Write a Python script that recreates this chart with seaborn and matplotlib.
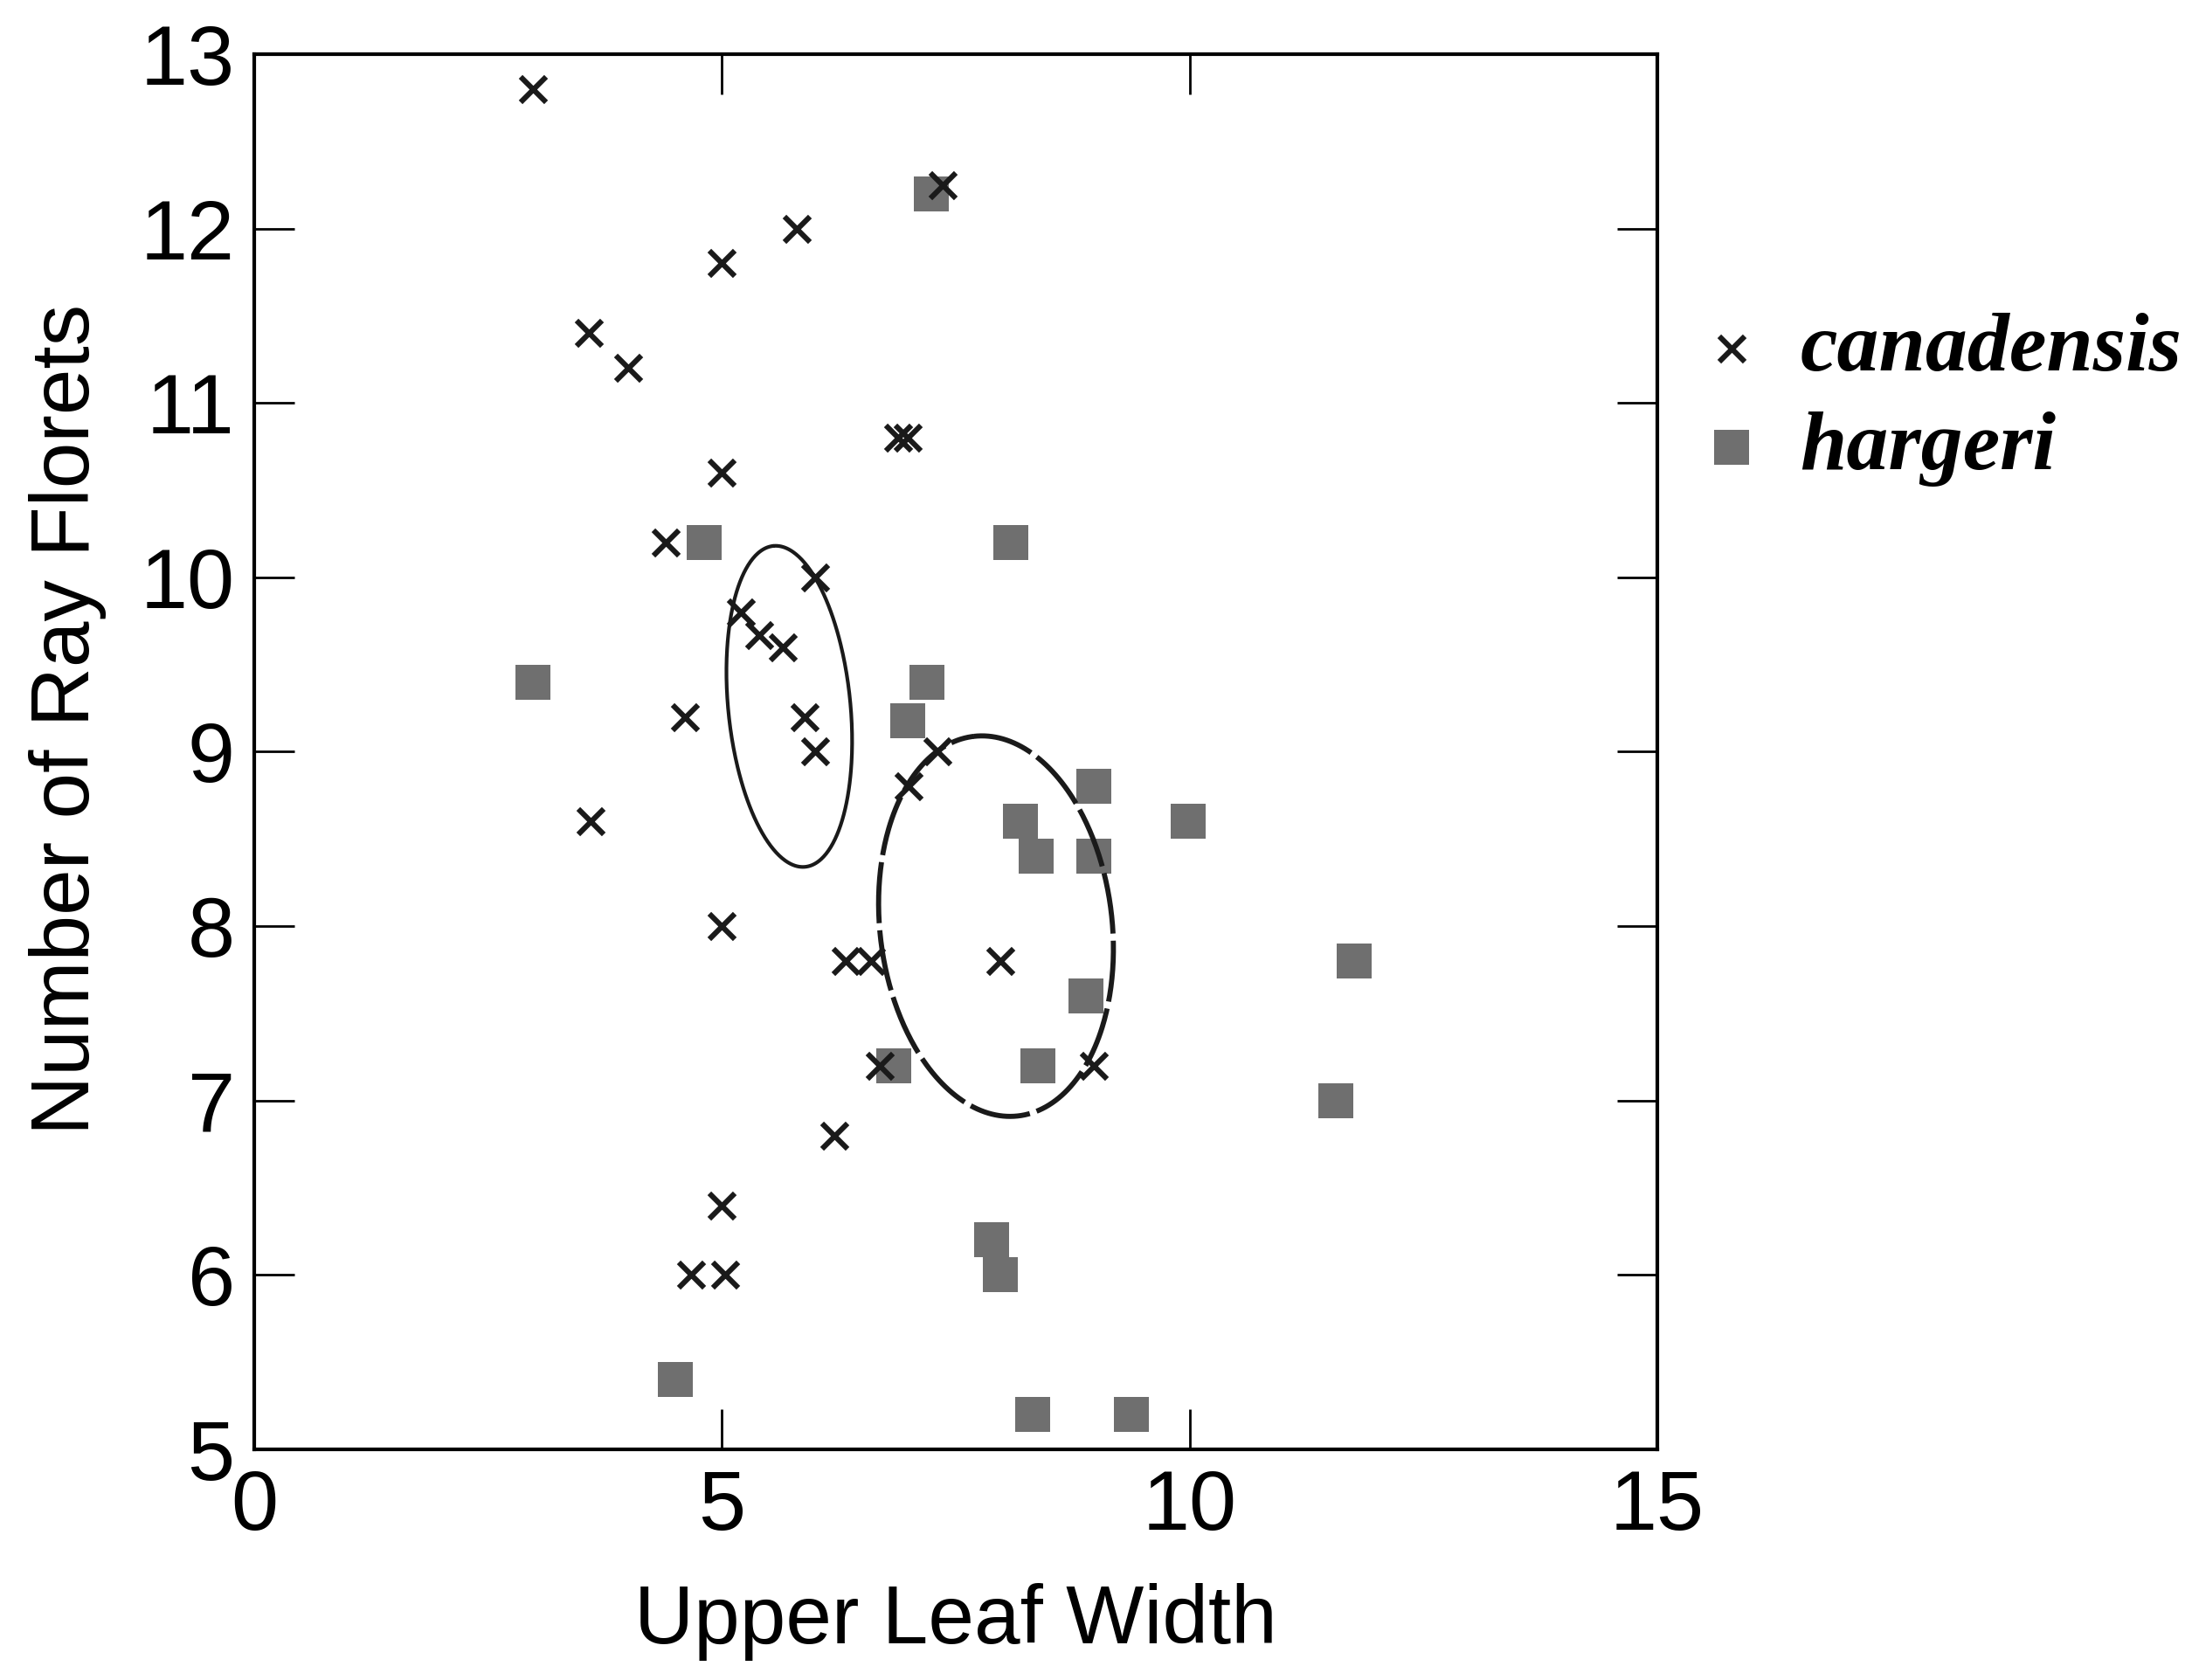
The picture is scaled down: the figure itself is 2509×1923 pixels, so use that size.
import numpy as np
import pandas as pd
import matplotlib
matplotlib.use("Agg")
import matplotlib.pyplot as plt
from matplotlib.font_manager import FontProperties
import seaborn as sns

# ---- data ----
can_x = [2.98, 3.58, 4.0, 5.0, 5.8, 7.36, 5.0, 6.88, 6.99, 4.4, 6.0, 5.2, 5.4, 5.65,
         4.6, 5.88, 6.0, 7.3, 7.0, 3.6, 5.0, 6.32, 6.59, 7.98, 6.69, 8.98, 6.2, 5.0,
         4.67, 5.03]
can_y = [12.8, 11.4, 11.2, 11.8, 12.0, 12.25, 10.6, 10.8, 10.8, 10.2, 10.0, 9.8, 9.67, 9.6,
         9.2, 9.2, 9.0, 9.0, 8.8, 8.6, 8.0, 7.8, 7.8, 7.8, 7.2, 7.2, 6.8, 6.4,
         6.0, 6.0]
har_x = [7.24, 4.81, 8.09, 2.98, 7.19, 6.99, 8.98, 8.19, 9.98, 8.36, 8.98, 11.76, 8.89,
         6.84, 8.38, 11.56, 7.88, 7.98, 4.5, 8.32, 9.38]
har_y = [12.2, 10.2, 10.2, 9.4, 9.4, 9.18, 8.8, 8.6, 8.6, 8.4, 8.4, 7.8, 7.6,
         7.2, 7.2, 7.0, 6.2, 6.0, 5.4, 5.2, 5.2]
series_names = ["canadensis", "hargeri"]

# ellipses: centre, half-axis vector A, half-axis vector B (data units)
ell_can_center = [5.72, 9.26]
ell_can_a = [-0.17, 0.92]
ell_can_b = [0.65, 0.035]
ell_har_center = [7.93, 8.0]
ell_har_a = [-0.24, 1.088]
ell_har_b = [1.232, 0.079]

x_ticks = [0, 5, 10, 15]
y_ticks = [5, 6, 7, 8, 9, 10, 11, 12, 13]
x_label = "Upper Leaf Width"
y_label = "Number of Ray Florets"

# ---- style ----
sns.set_theme(style="ticks")
plt.rcParams["font.family"] = ["Liberation Sans", "DejaVu Sans"]

fig = plt.figure(figsize=(25.09, 19.23), dpi=100)
fig.patch.set_facecolor("white")
ax = fig.add_axes([0.11598, 0.13729, 0.6401, 0.8305])
ax.set_facecolor("white")

df_h = pd.DataFrame({"x": har_x, "y": har_y})
df_c = pd.DataFrame({"x": can_x, "y": can_y})

sns.scatterplot(data=df_h, x="x", y="y", marker="s", s=790, color="#6f6f6f",
                linewidth=0, label=series_names[1], ax=ax, zorder=3)
sns.scatterplot(data=df_c, x="x", y="y", marker="x", s=440, color="#1a1a1a",
                linewidth=4.4, label=series_names[0], ax=ax, zorder=4)
ax.collections[0].set_linewidth(0)
ax.collections[1].set_linewidth(4.4)

t = np.linspace(0, 2 * np.pi, 400)
def ellipse(c, a, b):
    ex = c[0] + np.cos(t) * a[0] + np.sin(t) * b[0]
    ey = c[1] + np.cos(t) * a[1] + np.sin(t) * b[1]
    return ex, ey

ex, ey = ellipse(ell_can_center, ell_can_a, ell_can_b)
ax.plot(ex, ey, color="#1a1a1a", lw=3.0, zorder=5)
ex, ey = ellipse(ell_har_center, ell_har_a, ell_har_b)
ax.plot(ex, ey, color="#1a1a1a", lw=4.2, dashes=(12, 1.4), zorder=5)

ax.set_xlim(0, 15)
ax.set_ylim(5, 13)
ax.set_xticks(x_ticks)
ax.set_yticks(y_ticks)
ax.tick_params(direction="in", length=33, width=2.0, top=True, right=True,
               labelsize=70, pad=16, color="black", labelcolor="black")
for s in ax.spines.values():
    s.set_visible(True)
    s.set_linewidth(3)
    s.set_color("black")

ax.set_xlabel(x_label, fontsize=68, color="black")
ax.set_ylabel(y_label, fontsize=68, color="black")
ax.xaxis.set_label_coords(0.5, -0.096)
ax.yaxis.set_label_coords(-0.105, 0.523)

handles, labels = ax.get_legend_handles_labels()
order = [labels.index(n) for n in series_names]
leg = ax.legend([handles[i] for i in order], [labels[i] for i in order],
                loc="upper left", bbox_to_anchor=(1.0288, 0.815), frameon=False,
                prop=FontProperties(family="Liberation Serif", weight="bold",
                                    style="italic", size=69),
                handlelength=0.8, handletextpad=0.42, labelspacing=0.27,
                borderpad=0, borderaxespad=0)
for txt in leg.get_texts():
    txt.set_color("black")

fig.savefig("out.png", dpi=100, facecolor="white")
